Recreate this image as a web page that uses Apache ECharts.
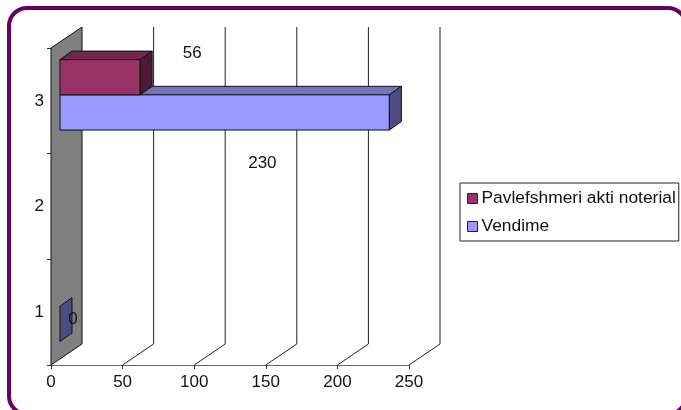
<!DOCTYPE html>
<html>
<head>
<meta charset="utf-8">
<style>html,body{margin:0;padding:0;background:#fff}#chart{width:681px;height:410px}</style>
<script src="https://cdn.jsdelivr.net/npm/echarts@6/dist/echarts.min.js"></script>
</head>
<body>
<div id="chart"></div>
<script>
const categories = ['1', '2', '3'];
const valueTicks = [0, 50, 100, 150, 200, 250];
const vendime = [[0, '1'], [230, '3']];
const pavlefshmeri = [[56, '3']];

const FONT = '"Liberation Sans", Arial, sans-serif';
const INK = '#111';
// Oblique projection of the chart depth: wall depth and bar depth, in pixels.
const WALL = { dx: 31, dy: -21 };
const INSET = { dx: 9, dy: -6 };
const BAR = { dx: 12, dy: -8.5 };

const shade = {
  vendime: { front: '#9999ff', top: '#7373bf', side: '#4d4d80' },
  pavlefshmeri: { front: '#993366', top: '#732650', side: '#4d1a33' }
};

function poly(points, fill, z2) {
  return {
    type: 'polygon',
    z2: z2 || 0,
    shape: { points },
    style: { fill, stroke: '#111', lineWidth: 1 }
  };
}

// Draws a horizontal box: front face, top face and end face.
function boxRenderer(colors, slot, labelShift) {
  return function (params, api) {
    const value = api.value(0);
    const cat = api.value(1);
    const band = api.size([0, 1])[1];
    const barH = band / 3;
    const origin = api.coord([0, cat]);
    const end = api.coord([value, cat]);
    const bottom = origin[1] + band / 2 + INSET.dy - barH / 2 - barH * slot;
    const top = bottom - barH;
    const x0 = origin[0] + INSET.dx;
    const x1 = end[0] + INSET.dx;
    const d = BAR;
    const children = [];
    if (value > 0) {
      children.push(poly([[x0, top], [x0 + d.dx, top + d.dy], [x1 + d.dx, top + d.dy], [x1, top]], colors.top));
      children.push(poly([[x0, top], [x1, top], [x1, bottom], [x0, bottom]], colors.front));
    }
    children.push(poly([[x1, top], [x1 + d.dx, top + d.dy], [x1 + d.dx, bottom + d.dy], [x1, bottom]], colors.side));
    const shift = labelShift[params.dataIndex];
    children.push({
      type: 'text',
      z2: 5,
      style: {
        text: String(value),
        x: end[0] + shift[0],
        y: origin[1] + shift[1],
        fill: INK,
        font: '17px ' + FONT,
        align: 'center',
        verticalAlign: 'middle'
      }
    });
    return { type: 'group', children };
  };
}

// Back wall at zero and the gridlines that run over the floor and up the back.
function renderBackdrop(params, api) {
  const cs = params.coordSys;
  const x = api.coord([api.value(0), categories[0]])[0];
  const floorY = cs.y + cs.height;
  const topY = cs.y;
  if (api.value(0) === 0) {
    return poly([[x, topY], [x + WALL.dx, topY + WALL.dy], [x + WALL.dx, floorY + WALL.dy], [x, floorY]], '#808080');
  }
  return {
    type: 'polyline',
    shape: { points: [[x, floorY], [x + WALL.dx, floorY + WALL.dy], [x + WALL.dx, topY + WALL.dy]] },
    style: { fill: 'none', stroke: '#222', lineWidth: 1 }
  };
}

const chart = echarts.init(document.getElementById('chart'), null, { renderer: 'canvas' });
chart.setOption({
  animation: false,
  backgroundColor: '#fff',
  textStyle: { fontFamily: FONT },
  grid: { left: 51, right: 272, top: 48, bottom: 45 },
  xAxis: {
    type: 'value',
    min: 0,
    max: 250,
    interval: 50,
    splitLine: { show: false },
    axisLine: { show: true, lineStyle: { color: '#666' } },
    axisTick: { show: true, length: 4, lineStyle: { color: '#333' } },
    axisLabel: { color: INK, fontSize: 17, fontFamily: FONT, margin: 9 }
  },
  yAxis: {
    type: 'category',
    data: categories,
    splitLine: { show: false },
    axisLine: { show: true, onZero: false, lineStyle: { color: '#333' } },
    axisTick: { show: true, length: 4, lineStyle: { color: '#333' } },
    axisLabel: { color: INK, fontSize: 17, fontFamily: FONT, margin: 7, padding: [8, 0, 0, 0] }
  },
  legend: {
    orient: 'vertical',
    left: 460,
    top: 183,
    padding: [7, 3, 6, 7],
    itemWidth: 10,
    itemHeight: 10,
    itemGap: 11,
    borderColor: '#222',
    borderWidth: 1,
    backgroundColor: '#fff',
    icon: 'rect',
    textStyle: { color: INK, fontSize: 17.4, fontFamily: FONT, padding: [0, 0, 0, -1] },
    data: [
      { name: 'Pavlefshmeri akti noterial', itemStyle: { color: shade.pavlefshmeri.front, borderColor: '#222', borderWidth: 1 } },
      { name: 'Vendime', itemStyle: { color: shade.vendime.front, borderColor: '#222', borderWidth: 1 } }
    ]
  },
  graphic: [{
    type: 'rect',
    z: -10,
    silent: true,
    shape: { x: 9, y: 8, width: 677, height: 406, r: 18 },
    style: { fill: 'none', stroke: '#660066', lineWidth: 4 }
  }],
  series: [
    {
      type: 'custom',
      name: 'backdrop',
      silent: true,
      clip: false,
      z: 1,
      coordinateSystem: 'cartesian2d',
      encode: { x: 0 },
      data: valueTicks.map(v => [v]),
      renderItem: renderBackdrop
    },
    {
      type: 'custom',
      name: 'Vendime',
      clip: false,
      z: 2,
      coordinateSystem: 'cartesian2d',
      encode: { x: 0, y: 1 },
      data: vendime,
      renderItem: boxRenderer(shade.vendime, 0, [[22, 7], [-118, 62]])
    },
    {
      type: 'custom',
      name: 'Pavlefshmeri akti noterial',
      clip: false,
      z: 3,
      coordinateSystem: 'cartesian2d',
      encode: { x: 0, y: 1 },
      data: pavlefshmeri,
      renderItem: boxRenderer(shade.pavlefshmeri, 1, [[61, -48]])
    }
  ]
});
</script>
</body>
</html>
